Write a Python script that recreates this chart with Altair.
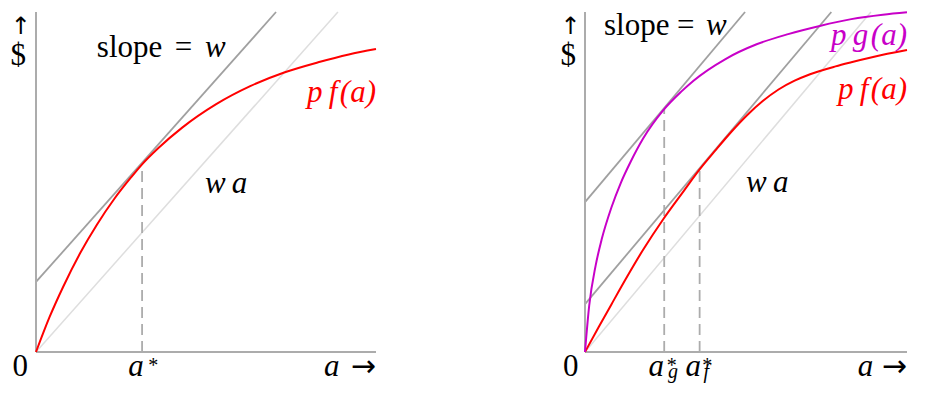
import altair as alt
import pandas as pd

# ---------------- data ----------------
# left panel: p f(a)
L_A  = [0, 0.04, 0.08, 0.13, 0.18, 0.23, 0.28, 0.312, 0.36, 0.43, 0.53, 0.63, 0.73, 0.83, 0.92, 1.0]
L_PF = [0, 0.103, 0.192, 0.291, 0.376, 0.450, 0.514, 0.552, 0.600, 0.660, 0.729, 0.782, 0.822, 0.852, 0.875, 0.891]

# right panel: p f(a)
R_FA = [0, 0.043, 0.082, 0.131, 0.180, 0.244, 0.307, 0.356, 0.405, 0.454, 0.504, 0.552, 0.601, 0.651, 0.699, 0.778, 0.827, 0.925, 1.0]
R_PF = [0, 0.074, 0.140, 0.222, 0.300, 0.392, 0.474, 0.537, 0.593, 0.647, 0.697, 0.738, 0.772, 0.798, 0.817, 0.840, 0.852, 0.874, 0.888]

# right panel: p g(a)
R_GA = [0, 0.013, 0.033, 0.052, 0.082, 0.111, 0.141, 0.180, 0.244, 0.298, 0.337, 0.435, 0.533, 0.631, 0.729, 0.827, 0.925, 1.0]
R_PG = [0, 0.136, 0.254, 0.332, 0.425, 0.497, 0.558, 0.627, 0.712, 0.765, 0.798, 0.861, 0.905, 0.935, 0.959, 0.979, 0.992, 0.999]

# straight lines: (x, y) -> (x2, y2)
WA_LINE      = (0, 0, 0.888, 1)       # w a
L_TANGENT    = (0, 0.206, 0.706, 1)   # slope = w, touching pf at a*
R_TANGENT_G  = (0, 0.441, 0.497, 1)   # touching pg at a*_g
R_TANGENT_F  = (0, 0.141, 0.765, 1)   # touching pf at a*_f

# optimum points (a*, value)
L_ASTAR = (0.312, 0.553)
R_AG    = (0.246, 0.716)
R_AF    = (0.356, 0.539)

# ---------------- styling ----------------
FONT = "Liberation Serif"
SYM_FONT = "DejaVu Sans"
RED = "#ff0000"
MAGENTA = "#c800c8"
GRAY_T = "#a0a0a0"
GRAY_AX = "#acacac"
GRAY_L = "#dedede"
FS = 31
FS_SMALL = 20

xs = alt.Scale(domain=[0, 1], nice=False, zero=False)
ys = alt.Scale(domain=[0, 1], nice=False, zero=False)


def seg_df(segs):
    return pd.DataFrame([{"x": s[0], "y": s[1], "x2": s[2], "y2": s[3]} for s in segs])


def rule_layer(segs, color, width, dash=None):
    kw = dict(color=color, strokeWidth=width)
    if dash:
        kw["strokeDash"] = dash
    return alt.Chart(seg_df(segs)).mark_rule(**kw).encode(
        x=alt.X("x:Q", scale=xs, axis=None),
        y=alt.Y("y:Q", scale=ys, axis=None),
        x2="x2:Q",
        y2="y2:Q",
    )


def curve_layer(a, v, color):
    df = pd.DataFrame({"a": a, "v": v})
    return alt.Chart(df).mark_line(color=color, strokeWidth=2, interpolate="monotone").encode(
        x=alt.X("a:Q", scale=xs, axis=None),
        y=alt.Y("v:Q", scale=ys, axis=None),
        order="a:Q",
    )


def text_layer(items, font, italic, align):
    rows = [dict(text=t, x=x, y=y, size=s, color=c) for (t, x, y, s, c, f, it, al) in items
            if f == font and it == italic and al == align]
    if not rows:
        return None
    df = pd.DataFrame(rows)
    kw = dict(font=font, align=align, baseline="alphabetic")
    if italic:
        kw["fontStyle"] = "italic"
    return alt.Chart(df).mark_text(**kw).encode(
        x=alt.X("x:Q", scale=xs, axis=None),
        y=alt.Y("y:Q", scale=ys, axis=None),
        text="text:N",
        size=alt.Size("size:Q", scale=None),
        color=alt.Color("color:N", scale=None),
    )


def text_layers(items):
    out = []
    for f in (FONT, SYM_FONT):
        for it in (False, True):
            for al in ("left", "center", "right"):
                l = text_layer(items, f, it, al)
                if l is not None:
                    out.append(l)
    return out


# label annotations: text, x, y (data units), size, colour, font, italic, align
BL = -0.071    # baseline of the bottom labels
SUP = -0.059   # superscript baseline
SUB = -0.076   # subscript baseline
LEFT_LABELS = [
    ("\u2191", -0.045, 0.935, 24, "black", SYM_FONT, False, "center"),
    ("$", -0.052, 0.844, FS, "black", FONT, False, "center"),
    ("slope", 0.179, 0.868, FS, "black", FONT, False, "left"),
    ("=", 0.434, 0.868, FS, "black", FONT, False, "center"),
    ("w", 0.497, 0.868, FS, "black", FONT, True, "left"),
    ("p\u2009f\u200a(a)", 1.0, 0.735, FS, RED, FONT, True, "right"),
    ("w\u2009a", 0.497, 0.468, FS, "black", FONT, True, "left"),
    ("0", -0.046, BL, FS, "black", FONT, False, "center"),
    ("a", 0.271, BL, FS, "black", FONT, True, "left"),
    ("*", 0.330, SUP, FS_SMALL, "black", FONT, False, "left"),
    ("a", 0.847, BL, FS, "black", FONT, True, "left"),
    ("\u2192", 1.0, BL, 30, "black", SYM_FONT, False, "right"),
]

RIGHT_LABELS = [
    ("\u2191", -0.045, 0.935, 24, "black", SYM_FONT, False, "center"),
    ("$", -0.052, 0.844, FS, "black", FONT, False, "center"),
    ("slope", 0.059, 0.932, FS, "black", FONT, False, "left"),
    ("=", 0.313, 0.932, FS, "black", FONT, False, "center"),
    ("w", 0.376, 0.932, FS, "black", FONT, True, "left"),
    ("p\u2009g\u200a(a)", 1.0, 0.903, FS, MAGENTA, FONT, True, "right"),
    ("p\u2009f\u200a(a)", 1.0, 0.744, FS, RED, FONT, True, "right"),
    ("w\u2009a", 0.5, 0.471, FS, "black", FONT, True, "left"),
    ("0", -0.044, BL, FS, "black", FONT, False, "center"),
    ("a", 0.197, BL, FS, "black", FONT, True, "left"),
    ("*", 0.254, SUP, FS_SMALL, "black", FONT, False, "left"),
    ("g", 0.258, SUB, FS_SMALL, "black", FONT, True, "left"),
    ("a", 0.312, BL, FS, "black", FONT, True, "left"),
    ("*", 0.364, SUP, FS_SMALL, "black", FONT, False, "left"),
    ("f", 0.368, SUB, FS_SMALL, "black", FONT, True, "left"),
    ("a", 0.847, BL, FS, "black", FONT, True, "left"),
    ("\u2192", 1.0, BL, 30, "black", SYM_FONT, False, "right"),
]

AXES = [(0, 0, 0, 1), (0, 0, 1, 0)]


def panel(tangents, points, curves, labels, width):
    layers = [
        rule_layer([WA_LINE], GRAY_L, 1.5),
        rule_layer(tangents, GRAY_T, 1.8),
        rule_layer([(p[0], 0, p[0], p[1]) for p in points], GRAY_AX, 1.8, dash=[11, 6]),
        rule_layer(AXES, GRAY_AX, 2),
    ]
    for a, v, c in curves:
        layers.append(curve_layer(a, v, c))
    layers += text_layers(labels)
    return alt.layer(*layers).properties(width=width, height=340)


left = panel([L_TANGENT], [L_ASTAR], [(L_A, L_PF, RED)], LEFT_LABELS, 340)
right = panel([R_TANGENT_G, R_TANGENT_F], [R_AG, R_AF],
              [(R_FA, R_PF, RED), (R_GA, R_PG, MAGENTA)], RIGHT_LABELS, 322)

chart = alt.hconcat(left, right, spacing=209, bounds="flush").properties(
    padding={"left": 2, "top": 0, "right": 0, "bottom": 0}
).configure_view(stroke=None)

chart.save("out.html", embed_options={"renderer": "svg", "actions": False})
